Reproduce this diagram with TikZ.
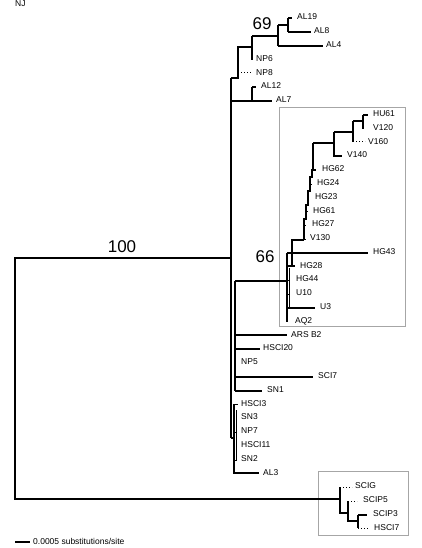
\documentclass[tikz,border=0pt]{standalone}
\usepackage{fontspec}
\setmainfont{Liberation Sans}
\begin{document}
\begin{tikzpicture}[x=1pt,y=-1pt,
  br/.style={line width=2pt},
  thn/.style={line width=1pt},
  dt/.style={line width=1pt, dash pattern=on 1pt off 2pt},
  lf/.style={anchor=west, inner sep=0pt, font=\fontsize{8.5}{10}\selectfont, text depth=0pt},
  bs/.style={inner sep=0pt, font=\fontsize{17}{20}\selectfont},
  grp/.style={draw=black!35, line width=1pt}]
\useasboundingbox (0,0) rectangle (421,548);
% group boxes
\draw[grp] (279.5,107.5) rectangle (405.5,326.5);
\draw[grp] (318.5,471.5) rectangle (408.5,535.5);
% root
\coordinate (r) at (15,258);
\coordinate (rb) at (15,499);
\coordinate (m) at (231,258);
\coordinate (mt) at (231,78);
\coordinate (mb) at (231,438);
\coordinate (sci) at (340,499);
\draw[br] (m) -- (r) -- (rb) -- (sci);
\draw[br] (mt) -- (mb);
\node[bs] (b100) at (122,247) {100};
% AL clade
\coordinate (a1) at (238,78);
\coordinate (a1t) at (238,47);
\coordinate (a2m) at (252,47);
\coordinate (a2t) at (252,36);
\coordinate (a2b) at (252,60);
\coordinate (a3m) at (278,36);
\coordinate (a3t) at (278,25);
\coordinate (a3b) at (278,46);
\coordinate (a4m) at (288,25);
\coordinate (a4t) at (288,18);
\coordinate (a4b) at (288,32);
\coordinate (tAL19) at (292,18);
\coordinate (tAL8) at (311,32);
\coordinate (tAL4) at (323,46);
\coordinate (a1n) at (238,73);
\coordinate (tNP8) at (252,73);
\draw[br] (mt) -- (a1) -- (a1t) -- (a2m);
\draw[br] (a2t) -- (a2b);
\draw[br] (a2t) -- (a3m);
\draw[br] (a3t) -- (a3b);
\draw[br] (a3t) -- (a4m);
\draw[br] (a4t) -- (a4b);
\draw[br] (a4t) -- (tAL19);
\draw[br] (a4b) -- (tAL8);
\draw[br] (a3b) -- (tAL4);
\draw[dt] (a1n) -- (tNP8);
\node[bs] (b69) at (262,24) {69};
\node[lf] (AL19) at (297,16.5) {AL19};
\node[lf] (AL8) at (314,30.8) {AL8};
\node[lf] (AL4) at (326,44.6) {AL4};
\node[lf] (NP6) at (256,58.4) {NP6};
\node[lf] (NP8) at (256,72.2) {NP8};
% AL12 / AL7
\coordinate (m101) at (231,101);
\coordinate (tAL7) at (272,101);
\coordinate (b1t) at (252,87);
\coordinate (b1b) at (252,101);
\coordinate (tAL12) at (256,87);
\draw[br] (m101) -- (tAL7);
\draw[br] (b1t) -- (b1b);
\draw[br] (b1t) -- (tAL12);
\node[lf] (AL12) at (261,86) {AL12};
\node[lf] (AL7) at (276,99.7) {AL7};
% node X
\coordinate (x1t) at (235,281);
\coordinate (x1b) at (235,391);
\draw[br] (x1t) -- (x1b);
\coordinate (c66) at (287,281);
\draw[br] (x1t) -- (c66);
\node[bs] (b66) at (265,257) {66};
\coordinate (xARS) at (235,335);
\coordinate (tARS) at (287,335);
\coordinate (xHS20) at (235,349);
\coordinate (tHS20) at (260,349);
\coordinate (xSCI7) at (235,377);
\coordinate (tSCI7) at (313,377);
\coordinate (tSN1) at (262,391);
\draw[br] (xARS) -- (tARS);
\draw[br] (xHS20) -- (tHS20);
\draw[br] (xSCI7) -- (tSCI7);
\draw[br] (x1b) -- (tSN1);
\node[lf] (ARSB2) at (291,334.2) {ARS B2};
\node[lf] (HSCI20) at (263,348) {HSCI20};
\node[lf] (NP5) at (241,361.8) {NP5};
\node[lf] (SCI7) at (318,375.5) {SCI7};
\node[lf] (SN1) at (267,389.3) {SN1};
% lower group
\coordinate (l1) at (234,438);
\coordinate (l1t) at (234,404);
\coordinate (l1b) at (234,473);
\coordinate (tAL3) at (259,473);
\draw[br] (mb) -- (l1);
\draw[br] (l1t) -- (l1b) -- (tAL3);
\draw[thn] (236,410) -- (236,460);
\draw[thn] (234,404) -- (238,404);
\draw[thn] (234,432) -- (237,432);
\draw[thn] (234,460) -- (237,460);
\node[lf] (HSCI3) at (241,403.1) {HSCI3};
\node[lf] (SN3) at (241,416.9) {SN3};
\node[lf] (NP7) at (241,430.7) {NP7};
\node[lf] (HSCI11) at (241,444.5) {HSCI11};
\node[lf] (SN2) at (241,458.3) {SN2};
\node[lf] (AL3) at (263,472.1) {AL3};
% 66 clade
\coordinate (h1t) at (363,115);
\coordinate (h1b) at (363,129);
\coordinate (h1m) at (363,121);
\coordinate (tHU61) at (368,115);
\coordinate (h2m) at (353,121);
\coordinate (h2b) at (353,142);
\coordinate (h2x) at (353,132);
\coordinate (tV160) at (365,142);
\coordinate (h3m) at (334,132);
\coordinate (h3b) at (334,156);
\coordinate (h3x) at (334,143);
\coordinate (tV140) at (342,156);
\coordinate (h4m) at (313,143);
\coordinate (h4b) at (313,170);
\coordinate (tHG62) at (316,170);
\draw[br] (h1t) -- (h1b);
\draw[br] (h1t) -- (tHU61);
\draw[br] (h2m) -- (h1m);
\draw[br] (h2m) -- (h2b);
\draw[dt] (h2b) -- (tV160);
\draw[br] (h3m) -- (h2x);
\draw[br] (h3m) -- (h3b) -- (tV140);
\draw[br] (h4m) -- (h3x);
\draw[br] (h4m) -- (h4b) -- (tHG62);
% staircase
\coordinate (s0) at (312,169);
\coordinate (s1) at (304,240);
\draw[br] (s0) -- (312,177) -- (310,177) -- (310,191) -- (308,191) -- (308,205) -- (306,205) -- (306,219) -- (304,219) -- (s1);
\draw[thn] (310,184) -- (312,184);
\draw[thn] (306,211) -- (308,211);
\draw[thn] (304,225) -- (306,225);
\draw[thn] (304,239) -- (306,239);
\coordinate (g1t) at (292,240);
\coordinate (g1b) at (292,266);
\coordinate (tHG28) at (295,266);
\coordinate (g2t) at (287,253);
\coordinate (g2b) at (287,322);
\coordinate (g2m) at (287,266);
\coordinate (tHG43) at (368,253);
\coordinate (tU3) at (315,308);
\coordinate (g2u) at (287,308);
\draw[br] (s1) -- (g1t) -- (g1b) -- (tHG28);
\draw[br] (g2m) -- (g1b);
\draw[br] (g2t) -- (g2b);
\draw[br] (g2t) -- (tHG43);
\draw[br] (g2u) -- (tU3);
\draw[thn] (289,268) -- (289,307);
\draw[thn] (287,280) -- (290,280);
\draw[thn] (287,294) -- (290,294);
\node[lf] (HU61) at (373,113.5) {HU61};
\node[lf] (V120) at (373,127.3) {V120};
\node[lf] (V160) at (368,141.1) {V160};
\node[lf] (V140) at (347,154.9) {V140};
\node[lf] (HG62) at (322,168.7) {HG62};
\node[lf] (HG24) at (317,182.5) {HG24};
\node[lf] (HG23) at (315,196.3) {HG23};
\node[lf] (HG61) at (313,210.1) {HG61};
\node[lf] (HG27) at (312,223.9) {HG27};
\node[lf] (V130) at (310,237.6) {V130};
\node[lf] (HG43) at (373,251.4) {HG43};
\node[lf] (HG28) at (300,265.2) {HG28};
\node[lf] (HG44) at (296,279) {HG44};
\node[lf] (U10) at (296,292.8) {U10};
\node[lf] (U3) at (320,306.6) {U3};
\node[lf] (AQ2) at (295,320.4) {AQ2};
% SCI clade
\coordinate (k1t) at (340,487);
\coordinate (k1b) at (340,513);
\coordinate (tSCIG) at (352,487);
\coordinate (k2m) at (348,513);
\coordinate (k2t) at (348,501);
\coordinate (k2b) at (348,521);
\coordinate (tSCIP5) at (357,501);
\coordinate (k3m) at (358,521);
\coordinate (k3t) at (358,515);
\coordinate (k3b) at (358,528);
\coordinate (tSCIP3) at (367,515);
\coordinate (tHSCI7) at (368,528);
\draw[br] (k1t) -- (k1b) -- (k2m);
\draw[br] (k2t) -- (k2b) -- (k3m);
\draw[br] (k3t) -- (k3b);
\draw[br] (k3t) -- (tSCIP3);
\draw[dt] (k1t) -- (tSCIG);
\draw[dt] (k2t) -- (tSCIP5);
\draw[dt] (k3b) -- (tHSCI7);
\node[lf] (SCIG) at (355,485.9) {SCIG};
\node[lf] (SCIP5) at (363,499.7) {SCIP5};
\node[lf] (SCIP3) at (373,513.4) {SCIP3};
\node[lf] (HSCI7) at (374,527.2) {HSCI7};
% scale bar and title
\coordinate (sb1) at (15,542);
\coordinate (sb2) at (30,542);
\draw[br] (sb1) -- (sb2);
\node[lf] (scale) at (33,541.5) {0.0005 substitutions/site};
\node[lf] (nj) at (15,4) {NJ};
\end{tikzpicture}
\end{document}
